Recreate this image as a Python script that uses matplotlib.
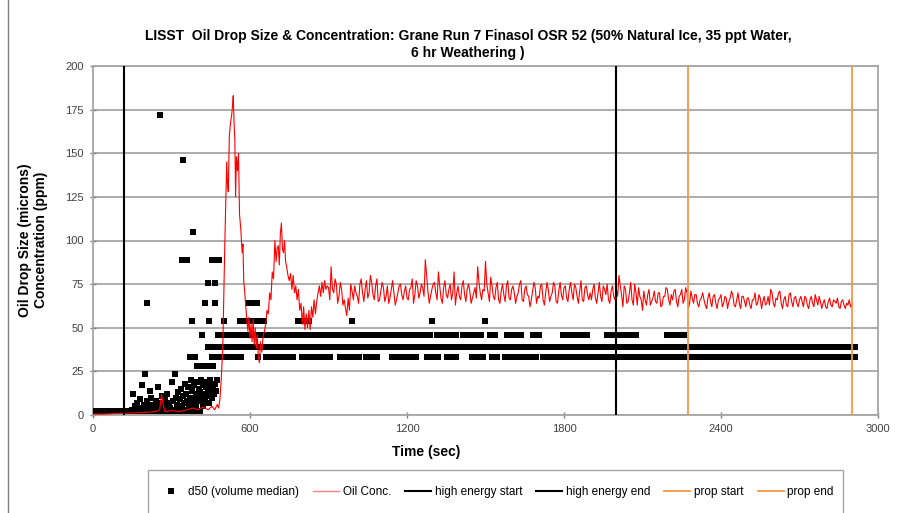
import numpy as np
import matplotlib.pyplot as plt
from matplotlib.patches import Rectangle
from matplotlib.lines import Line2D

plt.rcParams['font.family'] = ['Liberation Sans', 'DejaVu Sans']

# ---- data ----
# oil concentration (ppm), first part with uneven time steps
oil_time_early = [0, 40, 80, 120, 160, 200, 240, 255, 262, 268, 275, 300, 330, 360, 380, 400, 420, 440,
                  455, 465, 475, 480, 485, 490, 496, 500, 504, 508, 511, 514, 517, 521, 526, 530, 533,
                  536, 539, 542, 545, 548, 552, 556, 560, 565, 570, 573, 576, 580, 584, 588, 592, 596,
                  600, 604, 608, 612, 616, 620, 624, 628, 632, 636, 640, 645, 650, 655, 660, 665, 670,
                  675, 680, 685, 690, 695, 700, 704, 708, 712, 716, 720, 724, 728, 732, 736, 740, 745,
                  750, 755, 760, 765, 770, 775, 780, 785, 790, 795, 800, 805, 810, 815, 820, 825, 830,
                  835, 840, 845, 850, 855, 860, 865, 870, 875, 880, 885, 890, 895]
oil_conc_early = [0.5, 0.5, 0.8, 1, 1.2, 1.5, 2, 3, 12, 6, 2, 2.5, 2, 3, 4, 3, 4.5, 3,
                  5, 3, 6, 4, 9, 20, 39, 70, 100, 125, 145, 132, 128, 160, 168, 172, 177,
                  183, 168, 158, 125, 148, 140, 150, 115, 106, 93, 98, 77, 70, 62, 54, 48, 56,
                  44, 52, 42, 55, 40, 50, 38, 46, 33, 30, 42, 36, 45, 48, 52, 60, 58,
                  70, 66, 82, 78, 100, 88, 96, 97, 86, 104, 110, 95, 93, 100, 88, 85, 80,
                  77, 81, 72, 80, 70, 74, 66, 72, 60, 64, 52, 62, 49, 58, 50, 60, 49,
                  62, 56, 66, 58, 65, 70, 74, 68, 76, 70, 77, 72, 74]
# from 900 s to 2900 s, readings on the 10 s marks
oil_conc_late = [73, 85, 70, 75, 68, 72, 66, 57, 60, 71, 74,
                 68, 75, 70, 72, 67, 80, 69, 74, 65, 71,
                 73, 68, 64, 72, 70, 66, 74, 69, 71, 67,
                 72, 78, 69, 74, 70, 73, 89, 71, 68, 75,
                 70, 82, 67, 73, 69, 72, 66, 82, 70, 68,
                 74, 69, 72, 71, 67, 73, 85, 70, 72, 88,
                 70, 79, 68, 73, 66, 71, 69, 74, 67, 72,
                 70, 68, 75, 66, 72, 69, 62, 71, 73, 68,
                 74, 66, 70, 72, 68, 76, 65, 71, 69, 73,
                 67, 72, 70, 75, 68, 71, 66, 73, 69, 70,
                 72, 67, 70, 68, 74, 69, 66, 71, 68, 72,
                 80, 69, 74, 64, 70, 66, 75, 63, 68, 60,
                 66, 69, 63, 67, 65, 70, 62, 68, 73, 66,
                 69, 71, 65, 68, 72, 66, 70, 64, 67, 69,
                 64, 66, 70, 63, 67, 65, 68, 64, 66, 69,
                 64, 67, 65, 71, 63, 66, 64, 68, 65, 67,
                 63, 66, 70, 64, 67, 65, 63, 68, 72, 64,
                 67, 70, 64, 66, 63, 69, 65, 67, 64, 66,
                 65, 68, 63, 66, 64, 69, 63, 65, 64, 62,
                 65, 63, 66, 64, 62, 65, 63, 64, 66, 64]
# readings halfway between (905 s ... 2895 s)
oil_conc_mid = [66, 72, 78, 64, 76, 63, 61, 67, 75, 66,
                70, 64, 78, 65, 77, 70, 76, 66, 78, 66,
                76, 65, 74, 67, 77, 63, 70, 75, 66, 74,
                66, 73, 64, 77, 67, 75, 68, 80, 64, 72,
                76, 66, 74, 64, 77, 67, 75, 70, 63, 74,
                66, 77, 65, 75, 64, 70, 67, 76, 66, 71,
                75, 65, 74, 66, 76, 64, 75, 65, 77, 66,
                74, 64, 70, 77, 65, 74, 68, 66, 76, 64,
                67, 75, 63, 76, 65, 70, 74, 64, 76, 66,
                74, 65, 76, 66, 73, 64, 77, 65, 74, 66,
                66, 75, 64, 76, 65, 72, 75, 64, 74, 66,
                68, 74, 62, 72, 65, 76, 63, 70, 73, 66,
                71, 63, 72, 65, 71, 64, 70, 63, 68, 72,
                63, 66, 72, 62, 69, 64, 73, 61, 71, 64,
                69, 62, 67, 66, 61, 70, 62, 69, 61, 67,
                62, 68, 61, 67, 69, 62, 70, 61, 68, 62,
                67, 61, 66, 63, 69, 61, 68, 64, 63, 70,
                62, 66, 71, 61, 68, 62, 70, 62, 68, 62,
                68, 62, 67, 61, 68, 62, 66, 68, 61, 66,
                61, 67, 62, 65, 67, 61, 66, 61, 63, 62]

# d50 scattered points during the start (time, size in microns)
d50_time = [150, 153, 160, 165, 170, 175, 180, 186, 190, 195, 199, 200, 205, 206, 210, 215, 218, 222,
            226, 230, 235, 240, 245, 250, 255, 256, 258, 262, 266, 270, 275, 280, 284, 288, 292, 296,
            301, 305, 308, 314, 316, 320, 324, 328, 332, 336, 340, 341, 343, 344, 347, 350, 350, 354,
            357, 360, 360, 364, 367, 370, 370, 373, 376, 378, 380, 383, 383, 386, 389, 390, 392, 395,
            398, 401, 404, 407, 410, 413, 416, 418, 419, 422, 425, 428, 428, 431, 434, 437, 440, 440,
            443, 445, 446, 449, 452, 455, 455, 458, 461, 465, 466, 466, 470, 470, 475, 480, 500]
d50_size = [3, 12, 5, 3, 7, 4, 9, 17, 3, 6, 23.7, 4, 8, 64, 3, 5, 14, 10,
            4, 6, 3, 8, 5, 16, 3, 172, 7, 11, 4, 6, 9, 3, 12, 5, 7, 4,
            19, 8, 3, 23.7, 10, 6, 13, 4, 9, 15, 5, 89, 11, 146, 7, 18, 89, 3,
            12, 8, 89, 16, 5, 10, 33, 20, 7, 54, 14, 4, 105, 17, 9, 33, 12, 6,
            19, 11, 15, 8, 13, 20, 10, 46, 5, 17, 12, 8, 64, 16, 19, 11, 14, 75.5,
            7, 54, 20, 13, 17, 10, 89, 15, 12, 18, 64, 75.5, 14, 89, 20, 89, 54]

# d50 runs where the value sits on one size bin (level, start, end)
run_level = [2.5, 28, 33, 33, 33, 33, 33, 33, 33, 33, 33, 33, 33, 33, 33, 33, 33, 33, 33, 33, 33,
             33, 33, 33, 39, 39, 46, 46, 46, 46, 46, 46, 46, 46, 46, 46, 46, 46, 46, 46, 46, 46, 46,
             54, 54, 54, 54, 54, 64]
run_start = [0, 398, 453, 512, 630, 661, 799, 868, 944, 1043, 1142, 1176, 1276, 1354, 1377, 1448, 1525,
             1574, 1718, 1754, 1930, 2266, 2377, 2728, 440, 626, 478, 549, 760, 900, 936, 1066, 1314,
             1415, 1453, 1518, 1582, 1681, 1796, 1834, 1964, 2059, 2193,
             562, 785, 990, 1295, 1498, 592]
run_end = [410, 458, 500, 570, 632, 766, 856, 906, 1020, 1089, 1161, 1237, 1318, 1368, 1393, 1490, 1548,
           1697, 1738, 1918, 2254, 2362, 2709, 2916, 612, 2916, 531, 746, 879, 920, 1051, 1288, 1391,
           1440, 1486, 1541, 1639, 1708, 1815, 1888, 2044, 2080, 2262,
           657, 830, 992, 1297, 1500, 630]

marker_times = [120, 2000, 2275, 2900]
marker_labels = ['high energy start', 'high energy end', 'prop start', 'prop end']
marker_colors = ['black', 'black', '#F79646', '#F79646']

# ---- build series ----
late_t = np.arange(900, 2901, 10)
mid_t = np.arange(905, 2900, 10)
t_tail = np.concatenate([late_t, mid_t])
c_tail = np.concatenate([oil_conc_late, oil_conc_mid])
order = np.argsort(t_tail)
oil_time = np.concatenate([oil_time_early, t_tail[order]])
oil_conc = np.concatenate([oil_conc_early, c_tail[order]])

run_t = []
run_v = []
for lev, t0, t1 in zip(run_level, run_start, run_end):
    tt = np.arange(t0, t1 + 1, 6)
    run_t.extend(tt)
    run_v.extend([lev] * len(tt))
all_t = np.concatenate([run_t, d50_time])
all_v = np.concatenate([run_v, d50_size])

fig = plt.figure(figsize=(9.04, 5.13), dpi=100)
ax = fig.add_axes([93 / 904, 1 - 415 / 513, 785 / 904, 349 / 513])

ax.plot(all_t, all_v, 's', color='black', markersize=3.8, markeredgewidth=0,
        label='d50 (volume median)', zorder=3)
ax.plot(oil_time, oil_conc, color='red', lw=0.8, label='Oil Conc.', zorder=4)
for t, lab, c in zip(marker_times, marker_labels, marker_colors):
    ax.axvline(t, color=c, lw=1.5 if c == 'black' else 1.3, label=lab, zorder=5)

ax.set_xlim(0, 3000)
ax.set_ylim(0, 200)
ax.set_xticks(np.arange(0, 3001, 600))
ax.set_yticks(np.arange(0, 201, 25))
ax.yaxis.grid(True, color='#a6a6a6', lw=1.3)
ax.set_axisbelow(True)
for s in ax.spines.values():
    s.set_color('#a6a6a6')
    s.set_linewidth(1.3)
ax.tick_params(axis='both', labelsize=8, colors='#404040', direction='inout', length=5, width=1,
               pad=4)
ax.tick_params(axis='both', color='#808080')

fig.text(468 / 904, 1 - 36 / 513, 'LISST  Oil Drop Size & Concentration: Grane Run 7 Finasol OSR 52 (50% Natural Ice, 35 ppt Water,',
         ha='center', va='center', fontsize=10, fontweight='bold')
fig.text(468 / 904, 1 - 53 / 513, '6 hr Weathering )', ha='center', va='center', fontsize=10,
         fontweight='bold')
fig.text(426 / 904, 1 - 452 / 513, 'Time (sec)', ha='center', va='center', fontsize=10,
         fontweight='bold')
fig.text(33 / 904, 1 - 240 / 513, 'Oil Drop Size (microns)\nConcentration (ppm)', ha='center',
         va='center', rotation=90, fontsize=10, fontweight='bold', linespacing=1.2)

# outer chart frame and legend box
fig.add_artist(Line2D([8 / 904, 8 / 904], [0, 1], color='#808080', lw=1))
fig.add_artist(Rectangle((148 / 904, -0.1), (843 - 148) / 904, 0.1 + 1 - 470 / 513,
                         fill=False, edgecolor='#a6a6a6', lw=1, transform=fig.transFigure))
handles, labels = ax.get_legend_handles_labels()
handles[1] = Line2D([], [], color='#ff8080', lw=1)
fig.legend(handles, labels, loc='center', bbox_to_anchor=(496 / 904, 1 - 492 / 513), ncol=6,
           frameon=False, fontsize=8.5, handlelength=2.2, handletextpad=0.3, columnspacing=1.2,
           markerscale=1.0)

fig.savefig('out.png', dpi=100)
